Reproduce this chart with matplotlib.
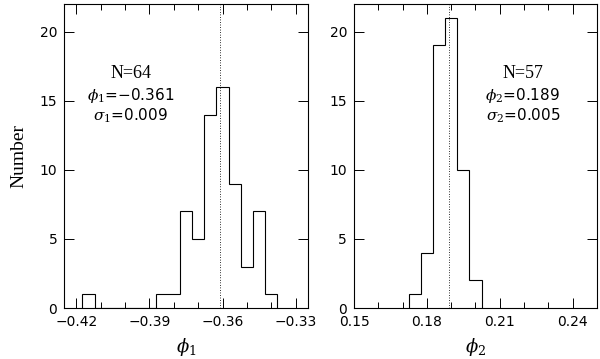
from matplotlib import pyplot as plt
from matplotlib.ticker import MultipleLocator
import numpy as np

# histogram edges / counts
phi1_edges = [-0.4175, -0.4125, -0.4075, -0.4025, -0.3975, -0.3925, -0.3875, -0.3825,
              -0.3775, -0.3725, -0.3675, -0.3625, -0.3575, -0.3525, -0.3475, -0.3425, -0.3375]
phi1_counts = [1, 0, 0, 0, 0, 0, 1, 1, 7, 5, 14, 16, 9, 3, 7, 1]
phi1_mean = -0.361

phi2_edges = [0.1725, 0.1775, 0.1825, 0.1875, 0.1925, 0.1975, 0.2025]
phi2_counts = [1, 4, 19, 21, 10, 2]
phi2_mean = 0.189

plt.rcParams['mathtext.fontset'] = 'dejavuserif'
tickfont = "DejaVu Sans"
serif = "Liberation Serif"

fig = plt.figure(figsize=(6, 3.59), dpi=100)
ax1 = fig.add_axes([0.107, 0.142, 0.406, 0.847])
ax2 = fig.add_axes([0.590, 0.142, 0.405, 0.847])

panels = [
  (ax1, phi1_edges, phi1_counts, phi1_mean, (-0.425, -0.325), [-0.42, -0.39, -0.36, -0.33],
   ["N=64", r"$\phi_1$=−0.361", r"$\sigma_1$=0.009"], 0.274, r"$\phi_1$"),
  (ax2, phi2_edges, phi2_counts, phi2_mean, (0.15, 0.25), [0.15, 0.18, 0.21, 0.24],
   ["N=57", r"$\phi_2$=0.189", r"$\sigma_2$=0.005"], 0.695, r"$\phi_2$"),
]

for ax, edges, counts, mean, xlim, xt, lines, tx, xlab in panels:
  ax.stairs(counts, edges, color="black", linewidth=0.8, baseline=0)
  ax.axvline(mean, color="black", linestyle=(0, (0.8, 1.8)), linewidth=0.7)
  ax.set_xlim(*xlim)
  ax.set_ylim(0, 22)
  ax.set_xticks(xt)
  ax.set_xticklabels([("%.2f" % v).replace("-", "\u2212") for v in xt])
  ax.xaxis.set_minor_locator(MultipleLocator(0.01))
  ax.set_yticks([0, 5, 10, 15, 20])
  ax.tick_params(which="both", direction="in", top=True, right=True,
                 labelsize=10, pad=5, width=0.7)
  ax.tick_params(which="major", length=7)
  ax.tick_params(which="minor", length=4)
  for lab in ax.get_xticklabels() + ax.get_yticklabels():
    lab.set_family(tickfont)
  for sp in ax.spines.values():
    sp.set_linewidth(0.8)
  for i, (txt, yy) in enumerate(zip(lines, [0.77, 0.70, 0.633])):
    fam = serif if i == 0 else tickfont
    ax.text(tx, yy, txt, transform=ax.transAxes, ha="center", va="center",
            fontsize=13 if i == 0 else 11, family=fam)
  ax.set_xlabel(xlab, fontsize=13, labelpad=5)

ax1.set_ylabel("Number", fontsize=14, family=serif, labelpad=9)

plt.savefig("out.png", dpi=100)
